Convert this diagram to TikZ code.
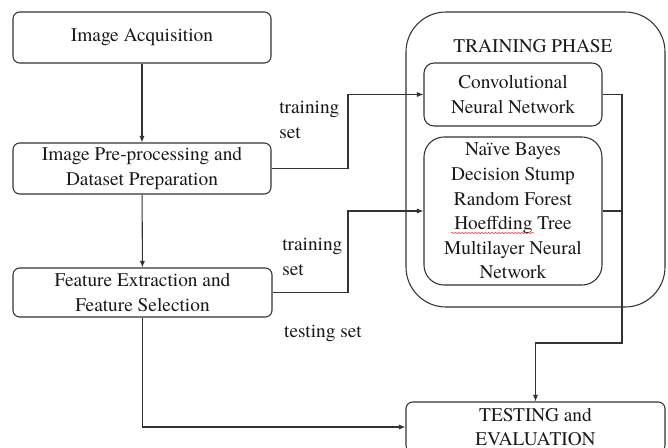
\documentclass[tikz,border=0pt]{standalone}
\usepackage{fontspec}
\setmainfont{texgyretermes-regular.otf}
\usetikzlibrary{arrows.meta,decorations.pathmorphing}
\begin{document}
\begin{tikzpicture}[x=0.75pt,y=-0.75pt,
  txt/.style={font=\fontsize{14.5}{18.4}\selectfont, text=black!90},
  box/.style={txt, draw=black!80, line width=0.8pt, rounded corners=5pt, align=center, inner sep=0pt},
  conn/.style={draw=black!80, line width=0.8pt},
  arr/.style={conn, -{Latex[length=5pt,width=4pt]}},
  lbl/.style={txt, align=left, inner sep=0pt}]
\useasboundingbox (0,0) rectangle (668,447);
\clip (0,0) rectangle (668,447);

\node[box, minimum width=193.5pt, minimum height=38.25pt] (ia) at (142,37.5) {Image Acquisition};
\node[box, minimum width=193.5pt, minimum height=38.25pt] (pp) at (142,168.5) {Image Pre-processing and\\Dataset Preparation};
\node[box, minimum width=194.25pt, minimum height=36.75pt] (fe) at (142.5,292.5) {Feature Extraction and\\Feature Selection};

\node[box, rounded corners=30pt, minimum width=194.25pt, minimum height=221.25pt] (tp) at (535.5,159.5) {};
\node[txt, inner sep=0pt] (tpl) at (533,46) {TRAINING PHASE};
\node[box, rounded corners=7.5pt, minimum width=133.5pt, minimum height=47.25pt] (cnn) at (513,94.5) {Convolutional\\Neural Network};
\node[box, rounded corners=15pt, minimum width=133.5pt, minimum height=111pt] (ml) at (513,211) {Naïve Bayes\\Decision Stump\\Random Forest\\Hoeffding Tree\\Multilayer Neural\\Network};
\draw[red!80, line width=0.4pt, decorate, decoration={snake, amplitude=0.5pt, segment length=2.5pt}] (451,233) -- (534,233);

\node[box, minimum width=194.25pt, minimum height=37.5pt] (te) at (535.5,427) {TESTING and\\EVALUATION};

\node[lbl, anchor=west] (l1) at (279,120) {training\\set};
\node[lbl, anchor=west] (l2) at (282,257) {training\\set};
\node[lbl] (l3) at (323,333) {testing set};

\coordinate (r1) at (348,94.5);
\coordinate (r2) at (348,211);
\coordinate (rr) at (622,343);

\draw[arr] (ia) -- (pp);
\draw[arr] (pp) -- (fe);
\draw[arr] (pp.east) -| (r1) -- (cnn.west);
\draw[arr] (fe.east) -| (r2) -- (ml.west);
\draw[arr] (cnn.east) -- (cnn.east -| rr) -- (rr) -| (te.north);
\draw[conn] (ml.east) -- (ml.east -| rr);
\draw[arr] (fe.south) |- (te.west);
\end{tikzpicture}
\end{document}
